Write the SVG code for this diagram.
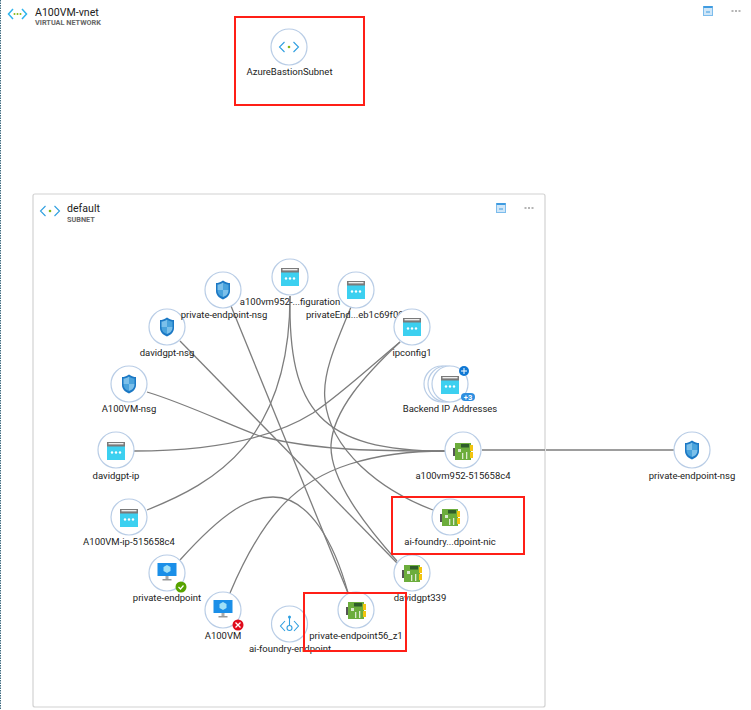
<svg xmlns="http://www.w3.org/2000/svg" width="751" height="710" viewBox="0 0 751 710">
<style>
text{font-family:Roboto,"Open Sans","Liberation Sans",sans-serif;fill:#222;font-size:9.500px}
.l{text-anchor:middle}
.s{font-size:7.300px;font-weight:700;fill:#666}
.t{font-size:10.600px}
.c{fill:none;stroke:#7d7d7d;stroke-width:1.300}
.r{fill:#fff;stroke:#b9cde6;stroke-width:1.200}
.hl{fill:none;stroke:#ff1f17;stroke-width:2}
</style>
<defs>
<g id="ip"><rect x="-9" y="-9" width="18" height="18" fill="#3cd0f0"/><rect x="-9" y="-9" width="18" height="4.500" fill="#7a7a7a"/><rect x="-7.500" y="-8" width="15" height="1.400" fill="#eee"/><circle cx="-4" cy="1.500" r="1.200" fill="#fff"/><circle cx="0" cy="1.500" r="1.200" fill="#fff"/><circle cx="4" cy="1.500" r="1.200" fill="#fff"/></g>
<g id="sh"><path d="M0-9.500C3-7.500 5-7 7-7V1C7 5 4 8 0 9.500C-4 8-7 5-7 1V-7C-5-7-3-7.500 0-9.500Z" fill="#1b78c4"/><path d="M0-7.500C-2-6-4-5.500-5.500-5.500V0H0ZM0 0V7C3 6 5.500 4 5.500 0Z" fill="#7cc0ea"/><path d="M0-7.500C2-6 4-5.500 5.500-5.500V0H0ZM0 0V7C-3 6-5.500 4-5.500 0Z" fill="#4aa3dc"/></g>
<g id="nic"><rect x="-10" y="-3" width="2" height="8" fill="#555"/><rect x="-8" y="-8" width="16" height="17" fill="#6cad3c"/><rect x="7" y="-6" width="3" height="6" fill="#f2c40f"/><rect x="7" y="1" width="3" height="6" fill="#f2c40f"/><rect x="-2" y="-7" width="8" height="3.500" fill="#2f5d2a"/><rect x="-5" y="-2" width="3" height="3" fill="#dcebd0"/><rect x="-1" y="2" width="1.300" height="6" fill="#dcebd0"/><rect x="3" y="1" width="1.300" height="7" fill="#dcebd0"/></g>
<g id="vm"><rect x="-9.500" y="-9" width="19" height="13" fill="#1b8fe8"/><path d="M0-7L3.500-5V-1L0 1L-3.500-1V-5Z" fill="#9fe0f7"/><rect x="-1.500" y="4" width="3" height="3" fill="#aaa"/><rect x="-4.500" y="7" width="9" height="1.500" fill="#999"/></g>
<g id="ar" fill="none" stroke="#2f9fe0" stroke-width="1.100"><path d="M-4.500-5L-9.500 0L-4.500 5M4.500-5L9.500 0L4.500 5"/><circle r="1.300" fill="#86b817" stroke="none"/></g>
<g id="min"><rect x="-4.500" y="-4.500" width="9" height="9" fill="#cfe6f8" stroke="#7cbcec"/><rect x="-4.500" y="-5" width="9" height="2" fill="#3f9be0"/><rect x="-2" y="0.500" width="4" height="1" fill="#3f9be0"/></g>
<g id="dots" fill="#b5b5b5"><rect x="-4.500" y="-1" width="2" height="2"/><rect x="-1" y="-1" width="2" height="2"/><rect x="2.500" y="-1" width="2" height="2"/></g>
</defs>
<rect width="751" height="710" fill="#fff"/>
<path d="M.5 0V710" stroke="#3d6a80" stroke-width="1" stroke-dasharray="1.500 1"/>
<rect x="33" y="194" width="512" height="513" rx="2" fill="#fff" stroke="#d2d2d2" stroke-width="1.200"/>
<g id="connectors">
<path class="c" d="M482 450H545M546 450H674"/>
<path class="c" d="M231 306L348 593"/>
<path class="c" d="M180 341L397 563"/>
<path class="c" d="M147 392C190 405 240 430 263 437C320 451 380 451 445 451"/>
<path class="c" d="M147 510C215 483 290 440 290 296"/>
<path class="c" d="M290 296C288 410 320 451 445 451"/>
<path class="c" d="M351 307C335 345 322 375 325 400C330 450 380 490 433 510"/>
<path class="c" d="M400 342C370 367 340 395 313 413C270 440 210 451 134 451"/>
<path class="c" d="M400 342C365 375 333 410 331 445C330 480 365 525 397 561"/>
<path class="c" d="M180 560C225 510 250 497 273 497C310 497 335 545 348 593"/>
<path class="c" d="M230 593C265 510 300 480 350 464C385 453 420 451 445 451"/>
</g>
<g id="vnet"><path fill="none" stroke="#2fb4ec" stroke-width="1.500" d="M13 9L8.500 14L13 19M22 9L26.500 14L22 19"/><circle cx="14.500" cy="14" r="1" fill="#86b817"/><circle cx="17.500" cy="14" r="1" fill="#86b817"/><circle cx="20.500" cy="14" r="1" fill="#86b817"/>
<text class="t" x="35" y="15.500">A100VM-vnet</text><text class="s" x="35" y="25">VIRTUAL NETWORK</text>
<use href="#min" x="708" y="11"/><use href="#dots" x="736" y="11"/></g>
<g id="subnet"><use href="#ar" x="50" y="211"/>
<text class="t" x="67" y="212">default</text><text class="s" x="67" y="222">SUBNET</text>
<use href="#min" x="501" y="208"/><use href="#dots" x="529" y="208"/></g>
<g id="n-bastion"><circle class="r" cx="289" cy="47" r="18"/><use href="#ar" x="289" y="47"/><text class="l" x="289.500" y="75">AzureBastionSubnet</text></g>
<g id="n-pe"><circle class="r" cx="356" cy="290" r="18"/><use href="#ip" x="356" y="290"/><text x="306" y="318">privateEnd...eb1c69f00f</text></g>
<g id="n-dnsg"><circle class="r" cx="167" cy="327" r="18"/><use href="#sh" x="167" y="327"/><text class="l" x="167" y="356">davidgpt-nsg</text></g>
<g id="n-penf"><circle class="r" cx="223" cy="290" r="18"/><use href="#sh" x="223" y="290"/><text class="l" x="224" y="318">private-endpoint-nsg</text></g>
<g id="n-cfg"><circle class="r" cx="290" cy="277" r="18"/><use href="#ip" x="290" y="277"/><text class="l" x="290" y="305">a100vm952-...figuration</text></g>
<g id="n-ip1"><circle class="r" cx="412" cy="327" r="18"/><use href="#ip" x="412" y="327"/><text class="l" x="412" y="356">ipconfig1</text></g>
<g id="n-anbsg"><circle class="r" cx="129" cy="384" r="18"/><use href="#sh" x="129" y="384"/><text class="l" x="129" y="412">A100VM-nsg</text></g>
<g id="n-back"><circle class="r" cx="442" cy="384" r="18"/><circle class="r" cx="446" cy="384" r="18"/><circle class="r" cx="450" cy="384" r="18"/><use href="#ip" x="450" y="385"/><circle cx="464" cy="371" r="5" fill="#0f78d4"/><path d="M461 371h6M464 368v6" stroke="#fff" stroke-width="1"/><rect x="461" y="393" width="14" height="8" rx="4" fill="#2f8fe0"/><text x="468" y="400" class="l" style="fill:#fff;font-size:7.500px;font-weight:700">+3</text><text class="l" x="450" y="412">Backend IP Addresses</text></g>
<g id="n-dip"><circle class="r" cx="116" cy="450" r="18"/><use href="#ip" x="116" y="451"/><text class="l" x="116" y="479">davidgpt-ip</text></g>
<g id="n-nic1"><circle class="r" cx="463" cy="450" r="18"/><use href="#nic" x="463" y="451"/><text class="l" x="463" y="479">a100vm952-515658c4</text></g>
<g id="n-aip"><circle class="r" cx="129" cy="517" r="18"/><use href="#ip" x="129" y="518"/><text class="l" x="129" y="545">A100VM-ip-515658c4</text></g>
<g id="n-afn"><circle class="r" cx="450" cy="517" r="18"/><use href="#nic" x="450" y="517"/><text class="l" x="450" y="545">ai-foundry...dpoint-nic</text></g>
<g id="n-pep"><circle class="r" cx="167" cy="573" r="18"/><use href="#vm" x="167" y="572"/><circle cx="181" cy="587" r="5.500" fill="#57a300"/><path d="M178.500 587l2 2 3-3.500" fill="none" stroke="#fff" stroke-width="1.200"/><text class="l" x="167" y="601">private-endpoint</text></g>
<g id="n-d339"><circle class="r" cx="412" cy="573" r="18"/><use href="#nic" x="412" y="573"/><text class="l" x="420" y="601">davidgpt339</text></g>
<g id="n-avm"><circle class="r" cx="223" cy="610" r="18"/><use href="#vm" x="223" y="609"/><circle cx="238" cy="625" r="5.500" fill="#e00b1c"/><path d="M235.500 622.500l5 5m0-5l-5 5" stroke="#fff" stroke-width="1.300"/><text class="l" x="223" y="639">A100VM</text></g>
<g id="n-afe"><circle class="r" cx="289.500" cy="624" r="18"/><g fill="none" stroke="#2f9fe0" stroke-width="1.100"><path d="M285 621l-4.500 5 4.500 5M294 621l4.500 5-4.500 5M289.500 617v8"/><circle cx="289.500" cy="628" r="2.500"/></g><circle cx="289.500" cy="617" r="1.500" fill="#2f9fe0"/><text class="l" x="290" y="651.500">ai-foundry-endpoint</text></g>
<g id="n-pe56"><circle class="r" cx="356" cy="610" r="18"/><use href="#nic" x="356" y="610"/><text class="l" x="356" y="639">private-endpoint56_z1</text></g>
<g id="n-rnsg"><circle class="r" cx="692" cy="450" r="18"/><use href="#sh" x="692" y="450"/><text class="l" x="692" y="479">private-endpoint-nsg</text></g>
<g id="highlights"><rect class="hl" x="235" y="17" width="129" height="88"/><rect class="hl" x="392" y="497" width="132" height="57"/><rect class="hl" x="304" y="593" width="102" height="58"/></g>
</svg>
